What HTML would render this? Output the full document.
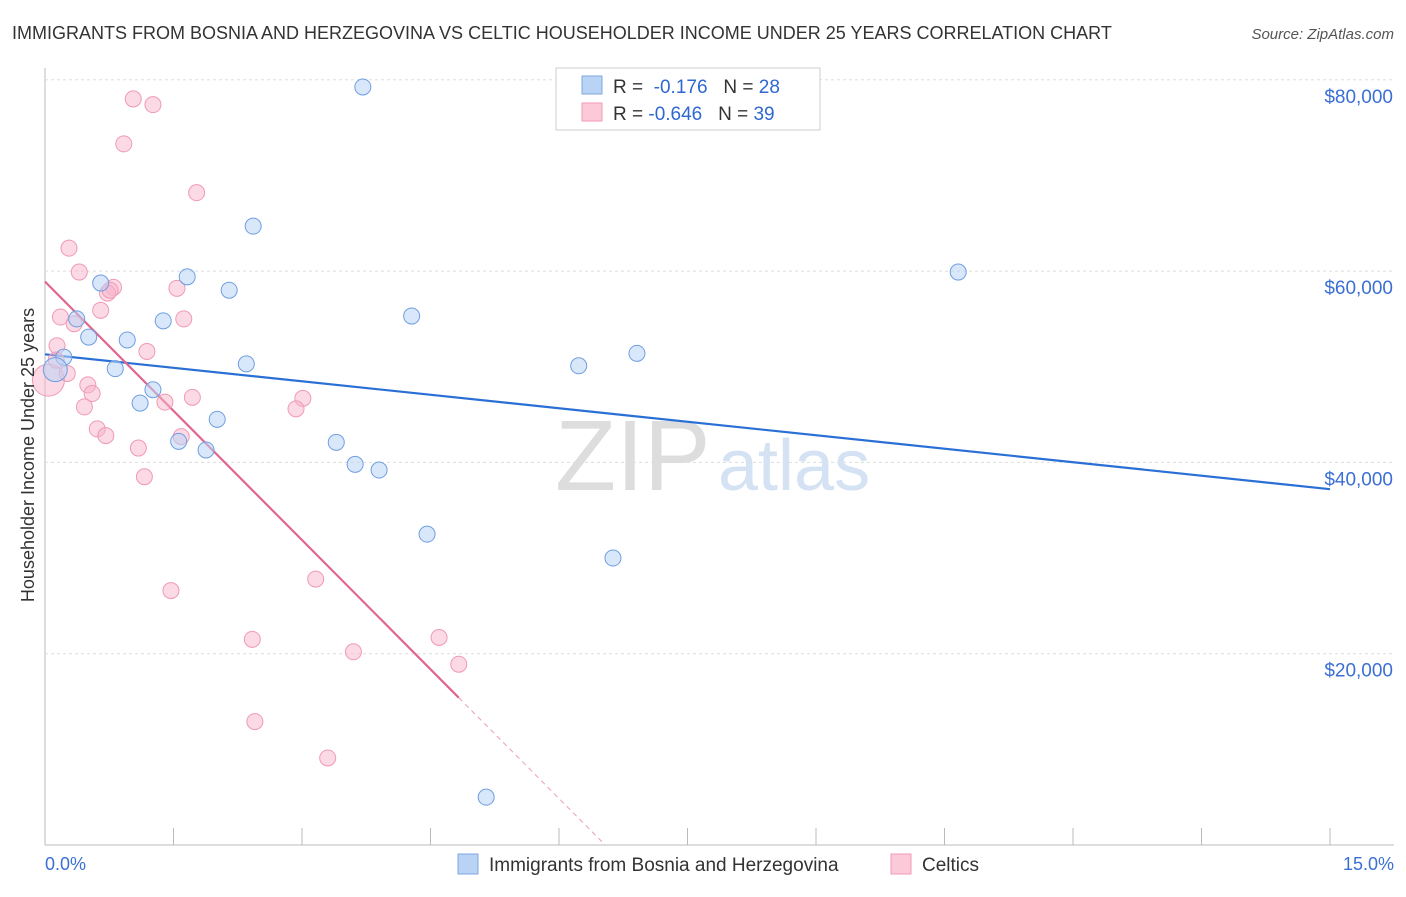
<!DOCTYPE html>
<html><head><meta charset="utf-8"><style>
body{margin:0;background:#fff;font-family:"Liberation Sans",sans-serif;}
svg text{font-family:"Liberation Sans",sans-serif;}
</style></head><body>
<svg width="1406" height="892" xmlns="http://www.w3.org/2000/svg">
<text x="12" y="39" font-size="18" fill="#333">IMMIGRANTS FROM BOSNIA AND HERZEGOVINA VS CELTIC HOUSEHOLDER INCOME UNDER 25 YEARS CORRELATION CHART</text>
<text x="1394" y="39" font-size="15" fill="#555" font-style="italic" text-anchor="end">Source: ZipAtlas.com</text>
<g id="grid"></g>
<text x="555" y="490" font-size="100" fill="#ddd" font-family="Liberation Serif">ZIP</text>
<text x="718" y="490" font-size="72" fill="#d4e2f3">atlas</text>
<g id="marks"></g>
<text transform="translate(34,455) rotate(-90)" font-size="18" fill="#333" text-anchor="middle">Householder Income Under 25 years</text>
<text x="45" y="870" font-size="18" fill="#3b6fd4">0.0%</text>
<text x="1394" y="870" font-size="18" fill="#3b6fd4" text-anchor="end">15.0%</text>
<g>
<rect x="556" y="68" width="264" height="62" fill="#fff" stroke="#ccc"/>
<rect x="582" y="76" width="20" height="18" fill="#b9d3f5" stroke="#7fa7e0"/>
<rect x="582" y="103" width="20" height="18" fill="#fbc9d8" stroke="#f09ab5"/>
<text x="613" y="93" font-size="19" fill="#333">R = <tspan fill="#2e68d0">&#160;-0.176</tspan>&#160;&#160;&#160;N = <tspan fill="#2e68d0">28</tspan></text>
<text x="613" y="120" font-size="19" fill="#333">R = <tspan fill="#2e68d0">-0.646</tspan>&#160;&#160;&#160;N = <tspan fill="#2e68d0">39</tspan></text>
</g>
<g>
<rect x="458" y="854" width="20" height="20" fill="#b9d3f5" stroke="#7fa7e0"/>
<text x="489" y="871" font-size="19" fill="#333">Immigrants from Bosnia and Herzegovina</text>
<rect x="891" y="854" width="20" height="20" fill="#fbc9d8" stroke="#f09ab5"/>
<text x="922" y="871" font-size="19" fill="#333">Celtics</text>
</g>
</svg>
<script>
const yTicks=[20000,40000,60000,80000];
const yTickLabels=["$20,000","$40,000","$60,000","$80,000"];
const blueX=[3.71,2.43,1.66,2.15,0.65,1.38,0.37,0.51,0.96,0.22,0.12,0.82,2.35,1.26,1.11,2.01,1.56,1.88,3.40,3.62,3.90,4.28,6.23,6.91,10.66,4.46,6.63,5.15];
const blueY=[79250,64700,59400,58000,58750,54800,55000,53100,52800,51000,49700,49800,50300,47600,46200,44500,42200,41300,42100,39800,39200,55300,50100,51400,59900,32500,30000,5000];
const pinkX=[1.03,1.26,0.92,1.77,0.28,0.40,0.80,0.73,1.54,0.65,0.18,0.34,1.62,1.19,0.14,0.04,0.26,0.50,0.55,0.46,1.40,1.72,3.01,2.93,0.61,0.71,1.59,1.09,1.16,3.16,1.47,2.42,4.60,3.60,4.83,2.45,3.30,0.13,0.76];
const pinkY=[78000,77400,73300,68200,62400,59900,58300,57700,58200,55900,55200,54500,55000,51600,52200,48600,49300,48100,47200,45800,46300,46800,46700,45600,43500,42800,42700,41500,38500,27800,26600,21500,21700,20200,18900,12900,9100,50700,58000];
const blueTrend=[51300,37200];
const pinkTrend=[58900,15400];
const pinkTrendEnd=4.83;
const NS='http://www.w3.org/2000/svg';
const xs=v=>45+v/15*1285, ys=v=>845-v*0.009565;
const grid=document.getElementById('grid'), marks=document.getElementById('marks');
function mk(p,tag,a){const e=document.createElementNS(NS,tag);for(const k in a)e.setAttribute(k,a[k]);p.appendChild(e);return e;}
let ax=mk(grid,'line',{x1:45,y1:845,x2:1394,y2:845,stroke:'#bbb'});


let ay=mk(grid,'line',{x1:45,y1:68,x2:45,y2:845,stroke:'#bbb'});


for(let i=0;i<=10;i++){const t=mk(grid,'line',{x1:xs(i*1.5),y1:828,x2:xs(i*1.5),y2:845,stroke:'#bbb'});

}
yTicks.forEach((v,i)=>{const g=mk(grid,'line',{x1:45,y1:ys(v),x2:1394,y2:ys(v),stroke:'#ddd','stroke-dasharray':'3,3'});


const t=mk(grid,'text',{x:1393,y:ys(v)+23,'font-size':19,fill:'#3b6fd4','text-anchor':'end'});t.textContent=yTickLabels[i];

});
const bl=mk(marks,'line',{x1:xs(0),y1:ys(blueTrend[0]),x2:xs(15),y2:ys(blueTrend[1]),stroke:'#2a6fd6','stroke-width':2.2});


const slope=(pinkTrend[1]-pinkTrend[0])/pinkTrendEnd;
const zeroX=-pinkTrend[0]/slope;
const pd=mk(marks,'line',{x1:xs(pinkTrendEnd),y1:ys(pinkTrend[1]),x2:xs(zeroX),y2:ys(0),stroke:'#e8a0b8','stroke-width':1,'stroke-dasharray':'5,4'});


const pl=mk(marks,'line',{x1:xs(0),y1:ys(pinkTrend[0]),x2:xs(pinkTrendEnd),y2:ys(pinkTrend[1]),stroke:'#e0668f','stroke-width':2.2});


pinkX.forEach((x,i)=>{const c=mk(marks,'circle',{cx:xs(x),cy:ys(pinkY[i]),r:i==15?16:8,fill:'rgba(248,180,203,0.5)',stroke:'#f09ab5','stroke-width':1});

});
blueX.forEach((x,i)=>{const c=mk(marks,'circle',{cx:xs(x),cy:ys(blueY[i]),r:i==10?12:8,fill:'rgba(185,211,245,0.55)',stroke:'#6f9ee0','stroke-width':1});

});
</script>
</body></html>
